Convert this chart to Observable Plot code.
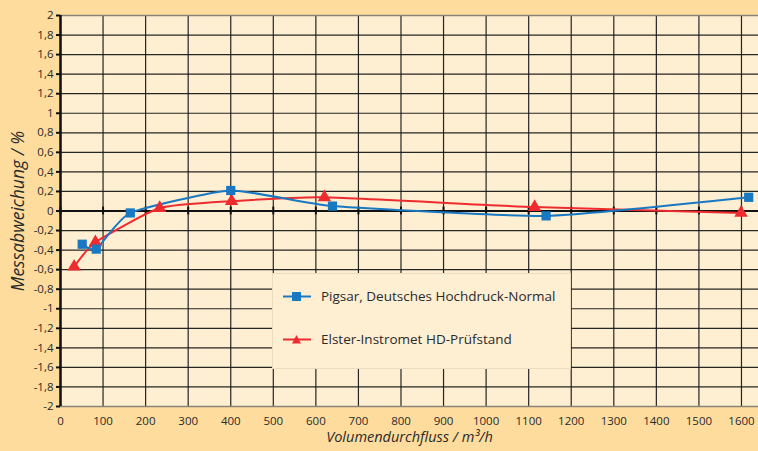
<!DOCTYPE html>
<html>
<head>
<meta charset="utf-8">
<script src="https://cdn.jsdelivr.net/npm/d3@7"></script>
<script src="https://cdn.jsdelivr.net/npm/@observablehq/plot@0.6"></script>
<style>
  html, body { margin: 0; padding: 0; background: #FDDC9E; }
  #wrap { position: relative; width: 758px; height: 451px; }
  #legend {
    position: absolute; left: 272px; top: 273px; width: 299px; height: 96px;
    background: #FEEFD3; border: 1px solid #eadcbc; box-sizing: border-box;
    font-family: "Open Sans", sans-serif; font-size: 13.5px; color: #2a2a2a;
  }
  .item { position: absolute; left: 10px; display: flex; align-items: center; }
  .item svg { margin-right: 10px; }
</style>
</head>
<body>
<div id="wrap"></div>
<script>
// Data
const pigsarX = [51, 84, 164, 400, 639, 1141, 1617];
const pigsarY = [-0.34, -0.39, -0.02, 0.21, 0.05, -0.05, 0.14];
const elsterX = [32, 82, 233, 402, 620, 1114, 1599];
const elsterY = [-0.57, -0.32, 0.03, 0.10, 0.14, 0.04, -0.02];
const seriesNames = ["Pigsar, Deutsches Hochdruck-Normal", "Elster-Instromet HD-Prüfstand"];
const xTicks = d3.range(0, 1601, 100);
const yTicks = d3.range(-10, 11).map(d => d / 5);

const blue = "#1878C2";
const red = "#EE2B2E";

const pigsar = pigsarX.map((x, i) => ({x, y: pigsarY[i]}));
const elster = elsterX.map((x, i) => ({x, y: elsterY[i]}));

const fmtY = d => (Math.round(d * 10) / 10).toString().replace(".", ",");
const fmtX = d => String(d);

const chart = Plot.plot({
  width: 758,
  height: 451,
  marginLeft: 60,
  marginRight: 0,
  marginTop: 15,
  marginBottom: 45,
  style: {background: "#FDDC9E", fontFamily: "'Liberation Sans Narrow', 'Open Sans', sans-serif", fontSize: "11.5px", color: "#2a2a2a"},
  x: {domain: [0, 1640], ticks: xTicks, label: null},
  y: {domain: [-2, 2], ticks: yTicks, label: null},
  marks: [
    Plot.frame({fill: "#FEEFD3", stroke: null}),
    Plot.gridX(xTicks, {stroke: "#1a1a1a", strokeOpacity: 0.95, strokeWidth: 1.2}),
    Plot.gridY(yTicks, {stroke: "#1a1a1a", strokeOpacity: 0.95, strokeWidth: 1.2}),
    Plot.ruleY([-2, 2], {stroke: "#8a8478", strokeWidth: 1.5}),
    Plot.ruleY([0], {stroke: "#111", strokeWidth: 2}),
    Plot.ruleX([0], {stroke: "#111", strokeWidth: 2.5}),
    Plot.ruleX(xTicks, {x: d => d, y1: -0.04, y2: 0.04, stroke: "#111", strokeWidth: 2}),
    Plot.axisY({ticks: yTicks, tickFormat: fmtY, tickSize: 4, tickPadding: 3, stroke: "#111", strokeWidth: 2, fontSize: 11.5, fill: "#2a2a2a"}),
    Plot.axisX({ticks: xTicks, tickFormat: fmtX, tickSize: 0, tickPadding: 10, fontSize: 11.5, fill: "#2a2a2a"}),
    Plot.text(["Messabweichung / %"], {frameAnchor: "left", dx: -42, rotate: -90, textAnchor: "middle", fontStyle: "italic", fontSize: 17.5, fill: "#2a2a2a", fontFamily: "'Open Sans', sans-serif"}),
    Plot.text(["Volumendurchfluss / m³/h"], {frameAnchor: "bottom", dy: 35, fontStyle: "italic", fontSize: 14.5, fill: "#2a2a2a", fontFamily: "'Open Sans', sans-serif"}),
    Plot.line(elster, {x: "x", y: "y", stroke: red, strokeWidth: 2, curve: "cardinal", tension: 0.5}),
    Plot.line(pigsar, {x: "x", y: "y", stroke: blue, strokeWidth: 2, curve: "cardinal", tension: 0.5}),
    Plot.dot(elster, {x: "x", y: "y", symbol: "triangle", r: 5, fill: red, stroke: null}),
    Plot.dot(pigsar, {x: "x", y: "y", symbol: "square", r: 5.2, fill: blue, stroke: null})
  ]
});

const wrap = document.getElementById("wrap");
wrap.appendChild(chart);

const legend = document.createElement("div");
legend.id = "legend";
const items = [
  {name: seriesNames[0], color: blue, shape: '<rect x="9" y="1" width="9" height="9"/>', top: 13},
  {name: seriesNames[1], color: red, shape: '<path d="M13.5,1 L18,9.5 L9,9.5 Z"/>', top: 56}
];
items.forEach(it => {
  const div = document.createElement("div");
  div.className = "item";
  div.style.top = it.top + "px";
  div.innerHTML = `<svg width="28" height="11"><line x1="0" x2="28" y1="5.5" y2="5.5" stroke="${it.color}" stroke-width="2"/><g fill="${it.color}">${it.shape}</g></svg><span>${it.name}</span>`;
  legend.appendChild(div);
});
wrap.appendChild(legend);
</script>
</body>
</html>
